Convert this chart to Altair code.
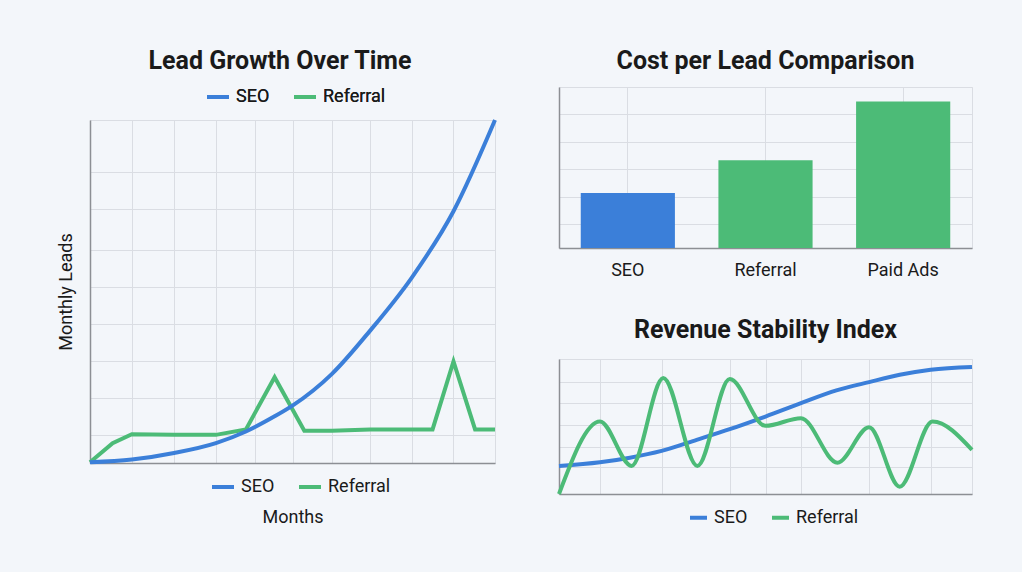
import altair as alt
import pandas as pd

BLUE = "#3B7FD9"
GREEN = "#4CBB77"
BG = "#F3F6FA"
GRID = "#DADDE3"
AXIS = "#8C8F94"
TEXT = "#1A1A1A"
FONT = "Roboto"

SERIES = ["SEO", "Referral"]

# Lead Growth Over Time (months 0-12, monthly leads)
GROWTH_MONTHS_SEO = [0, 1.24, 2.49, 3.73, 4.62, 5.47, 6.01, 7.17, 8.30, 9.53, 10.77, 12]
GROWTH_SEO = [1, 5, 14.6, 29, 46, 68, 84, 130, 193, 270, 367, 500]
GROWTH_MONTHS_REF = [0, 0.67, 1.24, 2.49, 3.73, 4.62, 5.47, 6.35, 7.17, 8.30, 10.15, 10.77, 11.41, 12]
GROWTH_REF = [1, 29, 42, 41, 41, 49, 125, 47, 47, 49, 49, 148, 49, 49]
GROWTH_GRID_X = [0, 1.24, 2.49, 3.73, 4.88, 6.01, 7.17, 8.30, 9.53, 10.77, 12]
GROWTH_GRID_Y = [0, 41, 95, 149, 203, 257, 310, 370, 424, 500]

# Cost per Lead Comparison
CHANNELS = ["SEO", "Referral", "Paid Ads"]
COST = [20.5, 32.7, 54.6]
COST_COLORS = [BLUE, GREEN, GREEN]
COST_GRID_Y = [0, 9, 19, 29.4, 39.6, 49.8, 60]

# Revenue Stability Index
STAB_X_SEO = [0, 1.19, 2.06, 2.98, 4.0, 4.96, 6.0, 7.03, 8.06, 9.01, 9.9, 10.8, 12]
STAB_SEO = [20.8, 23.5, 26.9, 31.9, 40.1, 48.0, 57.4, 67.3, 76.7, 82.9, 88.3, 92.1, 94.1]
STAB_X_REF = [0, 1.19, 2.11, 3.03, 4.02, 4.96, 6.0, 7.03, 8.09, 9.01, 9.9, 10.85, 12]
STAB_REF = [0, 53.7, 20.8, 85.9, 20.8, 85.2, 50.5, 56.2, 23.2, 49.5, 5.4, 53.7, 32.7]
STAB_GRID_X = [0, 1.19, 2.98, 4.96, 6.0, 7.03, 9.01, 10.8, 12]
STAB_GRID_Y = [0, 19.8, 35.1, 51.2, 67.3, 82.9, 100]


def series_frame(xs, ys, name):
    return pd.DataFrame({"x": xs, "y": ys, "series": name})


def chart_title(text, offset):
    return alt.TitleParams(text, fontSize=25, fontWeight="bold", font=FONT,
                           color=TEXT, anchor="middle", frame="bounds", offset=offset)


def series_legend(x, y, size):
    return alt.Legend(orient="none", legendX=x, legendY=y, direction="horizontal",
                      title=None, symbolType="stroke", symbolSize=size,
                      symbolStrokeWidth=4, labelFontSize=18, labelFont=FONT,
                      labelColor=TEXT, labelOffset=5, columnPadding=16, padding=0)


color_scale = alt.Scale(domain=SERIES, range=[BLUE, GREEN])

# ---- left: lead growth ----
growth_x = alt.X("x:Q", scale=alt.Scale(domain=[0, 12], nice=False, zero=False),
                 axis=alt.Axis(values=GROWTH_GRID_X, labels=False, ticks=False,
                               title="Months", titlePadding=45))
growth_y = alt.Y("y:Q", scale=alt.Scale(domain=[0, 500], nice=False),
                 axis=alt.Axis(values=GROWTH_GRID_Y, labels=False, ticks=False,
                               title="Monthly Leads", titlePadding=15))
top_legend = series_legend(115, -36, 484)

growth_seo = alt.Chart(series_frame(GROWTH_MONTHS_SEO, GROWTH_SEO, "SEO")).mark_line(
    strokeWidth=4, interpolate="monotone"
).encode(x=growth_x, y=growth_y,
         color=alt.Color("series:N", scale=color_scale, legend=top_legend))
growth_ref = alt.Chart(series_frame(GROWTH_MONTHS_REF, GROWTH_REF, "Referral")).mark_line(
    strokeWidth=4
).encode(x=growth_x, y=growth_y,
         color=alt.Color("series:N", scale=color_scale, legend=top_legend))
# second key under the plot; it carries the same series and draws no lines itself
growth_key = alt.Chart(series_frame(GROWTH_MONTHS_REF, GROWTH_REF, "Referral")).transform_filter(
    "false"
).transform_calculate(series_b="datum.series").mark_line(strokeWidth=4).encode(
    x=growth_x, y=growth_y,
    color=alt.Color("series_b:N", scale=color_scale, legend=series_legend(120, 354, 484))
)
growth = alt.layer(growth_ref, growth_seo, growth_key).resolve_scale(color="independent").properties(
    width=405, height=343, title=chart_title("Lead Growth Over Time", 10)
)

# empty strip that sets where the left panel starts relative to the right column
strip = alt.Chart(pd.DataFrame({"v": [0]})).mark_point(opacity=0).encode(
    x=alt.X("v:Q", axis=None), y=alt.Y("v:Q", axis=None)
).properties(width=405, height=1, view=alt.ViewBackground(stroke="transparent"))

left = alt.vconcat(strip, growth, spacing=-43).resolve_scale(color="independent")

# ---- top right: cost per lead ----
cost_df = pd.DataFrame({"channel": CHANNELS, "cost": COST})
cost = alt.Chart(cost_df).mark_bar().encode(
    x=alt.X("channel:N", sort=CHANNELS,
            scale=alt.Scale(paddingInner=0.316, paddingOuter=0.158),
            axis=alt.Axis(title=None, labelAngle=0, labelFontSize=18, labelFont=FONT,
                          labelColor=TEXT, labelPadding=13, ticks=False, grid=True,
                          bandPosition=0.5)),
    y=alt.Y("cost:Q", scale=alt.Scale(domain=[0, 60], nice=False),
            axis=alt.Axis(values=COST_GRID_Y, labels=False, ticks=False, title=None)),
    color=alt.Color("channel:N", scale=alt.Scale(domain=CHANNELS, range=COST_COLORS), legend=None),
).properties(width=413, height=161, title=chart_title("Cost per Lead Comparison", 13))

# ---- bottom right: revenue stability ----
stab_df = pd.concat([series_frame(STAB_X_SEO, STAB_SEO, "SEO"),
                     series_frame(STAB_X_REF, STAB_REF, "Referral")], ignore_index=True)
stability = alt.Chart(stab_df).mark_line(strokeWidth=4, interpolate="monotone").encode(
    x=alt.X("x:Q", scale=alt.Scale(domain=[0, 12], nice=False, zero=False),
            axis=alt.Axis(values=STAB_GRID_X, labels=False, ticks=False, title=None)),
    y=alt.Y("y:Q", scale=alt.Scale(domain=[0, 100], nice=False),
            axis=alt.Axis(values=STAB_GRID_Y, labels=False, ticks=False, title=None)),
    color=alt.Color("series:N", scale=color_scale, legend=series_legend(129, 148, 289)),
).properties(width=413, height=135, title=chart_title("Revenue Stability Index", 16))

right = alt.vconcat(cost, stability, spacing=37).resolve_scale(color="independent")

chart = alt.hconcat(left, right, spacing=46).resolve_scale(color="independent").properties(
    background=BG,
    padding={"left": 56, "top": 48, "right": 41, "bottom": 44},
).configure_view(
    stroke=GRID, strokeWidth=1
).configure_axis(
    gridColor=GRID, gridWidth=1, domainColor=AXIS, domainWidth=1.5,
    titleFont=FONT, titleFontSize=18, titleFontWeight="normal", titleColor=TEXT,
    labelFont=FONT,
).configure_legend(
    labelFont=FONT
)

chart.save("out.html", embed_options={"renderer": "svg", "actions": False})
